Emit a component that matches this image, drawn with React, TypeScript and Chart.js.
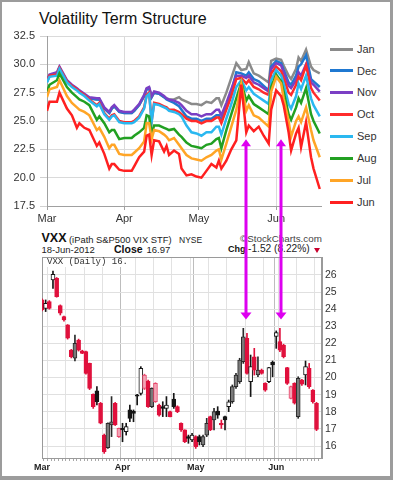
import React, { useEffect, useRef } from 'react';
import { Chart, registerables } from 'chart.js';
Chart.register(...registerables);

const FONT = "'Liberation Sans', Arial, Helvetica, sans-serif";
const MONO = "'Liberation Mono', 'DejaVu Sans Mono', monospace";

// ---------- Top chart: VIX futures term structure (x = days since Mar 1, 2012) ----------
const termDays = [0, 1, 4, 5, 8, 10, 12, 13, 15, 17, 20, 21, 23, 25, 26, 27, 29, 31, 34, 35, 37, 39, 40, 41, 42, 43, 45, 47, 48, 49, 51, 53, 54, 56, 58, 60, 62, 64, 66, 68, 69, 70, 72, 74, 76, 78, 80, 81, 83, 85, 87, 89, 90, 92, 94, 95, 97, 98, 100, 101, 102, 104, 106, 107, 109.5];
const monthTickDays = [0, 31, 61, 92];
const monthNames = ['Mar', 'Apr', 'May', 'Jun'];
const termYTicks = [17.5, 20, 22.5, 25, 27.5, 30, 32.5];

const janVals = [28.5, 29.0, 29.2, 29.7, 28.5, 28.1, 27.8, 27.6, 27.3, 27.0, 26.9, 26.9, 26.1, 25.7, 26.1, 26.3, 25.8, 25.7, 25.7, 25.9, 26.4, 27.2, 27.8, 27.9, 27.1, 27.5, 27.4, 27.1, 27.0, 26.9, 26.9, 27.1, 26.9, 26.7, 26.5, 26.5, 26.4, 26.7, 26.6, 27.0, 27.0, 26.4, 27.5, 28.8, 30.1, 29.5, 29.6, 30.2, 29.2, 29.0, 28.7, 28.4, 30.3, 30.5, 30.4, 29.9, 29.0, 28.7, 29.6, 30.6, 30.3, 31.3, 29.8, 29.5, 29.2];
const decVals = [28.5, 29.0, 29.2, 29.7, 28.5, 28.1, 27.8, 27.6, 27.3, 27.0, 26.9, 26.9, 26.1, 25.7, 26.1, 26.3, 25.8, 25.7, 25.7, 25.9, 26.4, 27.2, 27.8, 27.9, 27.1, 27.5, 27.4, 27.1, 26.9, 26.8, 26.6, 26.3, 26.0, 25.4, 25.2, 25.2, 25.0, 25.2, 25.2, 25.5, 25.5, 25.0, 26.3, 27.6, 29.3, 29.2, 29.0, 29.3, 28.7, 28.5, 28.1, 27.7, 29.8, 30.3, 30.1, 29.5, 28.4, 28.2, 29.0, 29.8, 30.0, 30.8, 28.7, 28.5, 28.0];
const novVals = [28.6, 29.1, 29.3, 29.8, 28.6, 28.2, 27.9, 27.7, 27.4, 27.1, 27.0, 27.0, 26.2, 25.8, 26.2, 26.4, 25.9, 25.8, 25.8, 26.0, 26.5, 27.3, 27.9, 28.0, 27.2, 27.6, 27.5, 27.2, 27.0, 26.9, 26.8, 26.6, 26.4, 25.9, 25.6, 25.6, 25.4, 25.6, 25.6, 26.0, 26.0, 25.5, 26.6, 27.8, 29.0, 29.0, 28.8, 29.0, 28.4, 28.2, 27.9, 27.6, 29.6, 30.1, 29.9, 29.3, 28.1, 27.9, 28.6, 29.3, 29.0, 30.0, 28.4, 28.2, 27.6];
const octVals = [28.5, 29.0, 29.1, 29.7, 28.5, 28.1, 27.8, 27.6, 27.3, 26.9, 26.4, 26.6, 25.7, 25.2, 25.5, 25.6, 25.0, 24.9, 24.9, 25.0, 25.4, 26.2, 27.3, 27.5, 25.0, 26.6, 26.5, 26.3, 26.2, 26.0, 26.0, 25.8, 25.6, 25.2, 25.0, 25.0, 24.8, 25.0, 25.0, 25.3, 25.3, 24.8, 26.0, 27.2, 28.7, 28.8, 28.3, 28.6, 28.0, 27.8, 27.5, 27.3, 29.2, 29.8, 29.4, 28.8, 27.5, 27.3, 28.2, 28.9, 28.6, 29.9, 27.9, 27.5, 26.8];
const sepVals = [28.4, 28.9, 29.0, 29.6, 28.4, 28.0, 27.7, 27.5, 27.2, 26.8, 26.3, 26.5, 25.6, 25.1, 25.4, 25.5, 24.9, 24.8, 24.8, 24.9, 25.3, 26.1, 27.2, 27.4, 24.9, 26.5, 26.4, 26.2, 26.1, 25.9, 25.8, 25.6, 25.4, 24.6, 24.0, 23.9, 23.7, 24.0, 24.0, 24.5, 24.5, 23.8, 25.2, 26.5, 28.0, 28.6, 27.7, 28.0, 27.4, 27.1, 26.8, 26.5, 28.6, 29.5, 29.0, 28.3, 26.5, 26.1, 27.2, 28.3, 27.8, 29.0, 27.0, 26.4, 25.4];
const augVals = [27.6, 28.2, 28.6, 29.2, 28.0, 27.5, 27.1, 26.9, 26.7, 26.4, 25.1, 25.4, 24.8, 24.0, 24.2, 24.2, 23.4, 23.5, 23.5, 23.7, 24.0, 24.4, 25.5, 25.4, 23.9, 24.6, 24.6, 24.4, 24.3, 24.2, 24.3, 23.8, 23.6, 23.1, 22.8, 22.7, 22.6, 22.9, 23.0, 23.4, 23.5, 22.6, 24.2, 25.6, 27.0, 28.4, 26.8, 27.2, 26.5, 26.2, 25.9, 25.6, 28.0, 29.1, 28.5, 27.6, 25.6, 25.1, 26.2, 27.0, 26.6, 27.9, 25.6, 25.0, 23.9];
const julVals = [27.1, 27.8, 28.0, 28.6, 27.2, 26.6, 26.2, 26.0, 25.8, 25.5, 24.2, 24.4, 23.6, 22.6, 22.9, 22.9, 22.1, 22.0, 22.0, 22.2, 22.6, 23.2, 24.8, 24.8, 23.4, 24.2, 24.1, 23.8, 23.6, 23.3, 23.5, 22.9, 22.6, 22.0, 21.7, 21.6, 21.5, 21.8, 22.0, 22.4, 22.5, 21.6, 23.0, 24.5, 26.0, 28.3, 25.9, 26.4, 25.5, 25.3, 24.9, 24.5, 27.6, 28.9, 28.3, 27.0, 25.0, 23.6, 25.0, 25.4, 24.9, 26.2, 24.2, 23.3, 21.8];
const junVals = [25.9, 26.7, 26.7, 27.5, 26.1, 25.5, 24.4, 24.8, 24.4, 24.2, 22.8, 23.1, 22.1, 20.8, 21.2, 21.2, 20.7, 20.6, 20.6, 21.0, 21.8, 22.3, 23.7, 23.8, 22.0, 23.3, 23.2, 22.3, 22.8, 22.0, 22.4, 22.1, 20.8, 20.2, 20.3, 20.1, 20.0, 20.6, 21.2, 20.9, 21.5, 20.8, 21.5, 22.5, 23.3, 28.2, 24.0, 24.6, 24.1, 24.5, 23.7, 23.0, 26.0, 27.7, 27.2, 26.4, 24.0, 22.4, 23.9, 24.4, 22.7, 24.9, 21.8, 20.8, 19.0];

const contractNames = ['Jan', 'Dec', 'Nov', 'Oct', 'Sep', 'Aug', 'Jul', 'Jun'];
const contractColors = ['#8A8A8A', '#1F78D1', '#7B3FC4', '#FF2B2B', '#2AB8F0', '#22A022', '#FFA526', '#FF2020'];
const contractValues = [janVals, decVals, novVals, octVals, sepVals, augVals, julVals, junVals];

// magenta arrows (top chart day, tip values in each chart)
const arrowTermDays = [79.9, 93.8];
const arrowTipTerm = 23.4;
const arrowTipVxx = 23.4;

// ---------- Bottom chart: VXX daily candles (x = trading-day index from Mar 1, 2012) ----------
const vxxOpen = [24.54, 24.05, 24.44, 25.71, 25.81, 24.21, 23.56, 23.08, 21.61, 22.00, 22.20, 21.56, 21.52, 20.83, 19.02, 19.22, 18.50, 16.64, 17.33, 17.42, 18.50, 16.55, 17.03, 16.84, 18.11, 18.05, 19.00, 19.08, 19.37, 19.80, 19.37, 18.59, 18.40, 18.30, 18.20, 18.01, 18.75, 18.30, 17.33, 16.94, 16.55, 16.35, 16.55, 16.55, 16.55, 17.33, 17.72, 18.01, 18.05, 17.33, 17.72, 18.30, 19.47, 20.15, 21.03, 22.39, 22.30, 19.76, 21.22, 20.44, 20.44, 19.66, 19.76, 20.89, 22.40, 22.10, 21.90, 20.58, 18.79, 19.66, 19.96, 19.86, 20.15, 20.54, 19.27, 18.49];
const vxxClose = [23.95, 24.34, 24.05, 26.04, 24.73, 23.76, 23.37, 22.30, 21.22, 21.13, 21.61, 21.42, 20.25, 19.37, 18.30, 18.59, 17.33, 15.67, 15.90, 17.23, 17.23, 17.03, 16.94, 17.13, 17.62, 17.91, 18.92, 20.54, 20.15, 18.30, 18.30, 19.66, 17.81, 18.20, 18.40, 17.72, 18.30, 18.01, 16.94, 16.25, 16.45, 16.64, 15.96, 16.25, 16.06, 16.64, 16.94, 17.52, 17.81, 17.23, 17.52, 18.59, 18.59, 19.47, 19.76, 20.93, 20.25, 20.64, 20.44, 20.15, 20.25, 19.27, 20.58, 20.74, 22.63, 21.61, 21.22, 19.66, 19.47, 18.50, 17.72, 19.61, 20.64, 19.47, 18.59, 16.97];
const vxxHigh = [24.60, 24.54, 24.50, 26.23, 25.85, 24.25, 23.60, 23.10, 21.65, 22.49, 22.25, 21.60, 21.55, 20.85, 19.05, 19.47, 18.55, 16.70, 17.35, 18.89, 18.55, 17.05, 17.33, 17.33, 18.40, 18.11, 19.02, 20.64, 20.20, 19.85, 19.40, 19.70, 18.45, 18.59, 18.89, 18.05, 19.08, 18.35, 17.35, 16.95, 16.64, 16.74, 16.60, 16.64, 16.64, 17.62, 17.75, 18.20, 18.30, 17.52, 17.75, 18.69, 19.57, 20.25, 21.13, 22.88, 22.59, 21.32, 21.71, 21.22, 20.50, 19.70, 20.60, 20.97, 22.73, 22.88, 21.95, 20.60, 19.50, 19.70, 20.05, 19.90, 20.97, 20.83, 19.30, 18.55];
const vxxLow = [23.90, 23.86, 24.00, 25.22, 24.70, 23.66, 23.30, 22.25, 21.15, 20.97, 21.55, 21.40, 20.20, 19.30, 18.20, 18.40, 17.30, 15.57, 15.86, 16.55, 17.20, 16.50, 16.25, 16.64, 17.42, 17.42, 18.40, 18.98, 19.30, 18.25, 18.25, 18.55, 17.75, 17.72, 17.72, 17.70, 18.20, 17.95, 16.85, 16.20, 16.16, 16.25, 15.86, 16.06, 15.96, 16.55, 16.90, 16.94, 17.62, 17.03, 16.94, 18.01, 18.50, 19.37, 19.66, 20.83, 20.20, 18.89, 20.15, 20.05, 20.20, 19.20, 19.70, 20.05, 21.71, 21.52, 21.15, 19.60, 18.75, 18.45, 17.62, 19.55, 19.57, 19.37, 18.50, 16.90];
// R = red filled, P = red hollow, G = black filled (grey), K = black filled (solid), B = black hollow
const vxxStyle = 'RBRBRRRRRGRRRRRKRRGGRPKBKKKBPRGPRKBRKRRRKBRKGGRGKRKBGGGGRBRGRRBKBRRRPRGRBRRR'.split('');
const vxxMonthIdx = [0, 22, 42, 64];
const vxxMondayIdx = [2, 7, 12, 17, 22, 26, 31, 36, 41, 46, 51, 56, 61, 65, 70, 75];
const vxxYTicks = [16, 17, 18, 19, 20, 21, 22, 23, 24, 25, 26];

const styleFill: Record<string, string> = { R: '#E0103C', P: '#F3A3B5', G: '#7A7A7A', K: '#151515', B: '#FFFFFF' };
const styleLine: Record<string, string> = { R: '#E0103C', P: '#E8486C', G: '#2A2A2A', K: '#151515', B: '#151515' };

const ARROW = '#DD00F0';

function Txt({ x, base, size, bold, color = '#222', family = FONT, z = 1, bg, children }: any) {
  return (
    <span
      style={{
        position: 'absolute', left: x, top: base - 0.8465 * size, fontSize: size, lineHeight: `${size}px`,
        fontWeight: bold ? 700 : 400, color, fontFamily: family, whiteSpace: 'pre', zIndex: z, background: bg,
      }}
    >
      {children}
    </span>
  );
}

export default function App() {
  const topRef = useRef<HTMLCanvasElement>(null);
  const botRef = useRef<HTMLCanvasElement>(null);

  useEffect(() => {
    document.body.style.margin = '0';
    Chart.defaults.font.family = FONT;
    Chart.defaults.color = '#333';

    let arrowXs: number[] = [];

    const topArrows = {
      id: 'topArrows',
      afterDatasetsDraw(chart: any) {
        const { ctx } = chart;
        const ys = chart.scales.y;
        const xs = chart.scales.x;
        ctx.save();
        ctx.fillStyle = ARROW;
        arrowTermDays.forEach((d) => {
          const x = Math.round(xs.getPixelForValue(d));
          const tip = ys.getPixelForValue(arrowTipTerm);
          ctx.fillRect(x - 1.5, tip + 5, 3, chart.height - tip - 5);
          ctx.beginPath();
          ctx.moveTo(x, tip);
          ctx.lineTo(x - 5, tip + 7);
          ctx.lineTo(x + 5, tip + 7);
          ctx.closePath();
          ctx.fill();
        });
        ctx.restore();
      },
    };

    const topDatasets = contractNames
      .map((name, k) => ({
        label: name,
        data: termDays.map((d, i) => ({ x: d, y: contractValues[k][i] })),
        borderColor: contractColors[k],
        backgroundColor: contractColors[k],
        borderWidth: 2.5,
        pointRadius: 0,
        tension: 0,
        fill: false,
      }))
      .reverse();

    const top = new Chart(topRef.current!, {
      type: 'line',
      data: { datasets: topDatasets },
      options: {
        responsive: false,
        animation: false,
        devicePixelRatio: 1,
        layout: { padding: { left: 0, top: 36, right: 72, bottom: 0 } },
        plugins: { legend: { display: false }, tooltip: { enabled: false } },
        scales: {
          x: {
            type: 'linear',
            min: 0,
            max: 110,
            afterBuildTicks: (s: any) => { s.ticks = monthTickDays.map((v) => ({ value: v })); },
            afterFit: (s: any) => { s.height = 24; },
            ticks: {
              autoSkip: false, maxRotation: 0, padding: 2, color: '#333', font: { size: 11 },
              callback: (v: any) => { const k = monthTickDays.indexOf(v); return k >= 0 ? monthNames[k] : ''; },
            },
            grid: { color: '#DADADA', tickLength: 4, tickColor: '#A0A0A0' },
            border: { color: '#A0A0A0' },
          },
          y: {
            min: 17.5,
            max: 32.5,
            afterBuildTicks: (s: any) => { s.ticks = termYTicks.map((v) => ({ value: v })); },
            afterFit: (s: any) => { s.width = 47; },
            ticks: { padding: 5, color: '#333', font: { size: 11 }, callback: (v: any) => Number(v).toFixed(1) },
            grid: { color: '#DADADA', tickLength: 7, tickColor: '#D0D0D0' },
            border: { color: '#A0A0A0' },
          },
        },
      },
      plugins: [topArrows],
    });

    const xsTop = top.scales.x;
    arrowXs = arrowTermDays.map((d) => Math.round(xsTop.getPixelForValue(d)));

    const botDecor = {
      id: 'botDecor',
      beforeDatasetsDraw(chart: any) {
        const { ctx, chartArea: a } = chart;
        ctx.save();
        ctx.strokeStyle = '#9A9A9A';
        ctx.lineWidth = 1;
        ctx.strokeRect(Math.round(a.left) + 0.5, Math.round(a.top) + 0.5, Math.round(a.right - a.left) - 1, Math.round(a.bottom - a.top));
        ctx.restore();
      },
      afterDraw(chart: any) {
        const { ctx } = chart;
        const ys = chart.scales.y;
        ctx.save();
        ctx.fillStyle = ARROW;
        arrowXs.forEach((x) => {
          const tip = ys.getPixelForValue(arrowTipVxx);
          ctx.fillRect(x - 1.5, 0, 3, tip - 5);
          ctx.beginPath();
          ctx.moveTo(x, tip);
          ctx.lineTo(x - 5.5, tip - 7);
          ctx.lineTo(x + 5.5, tip - 7);
          ctx.closePath();
          ctx.fill();
        });
        ctx.restore();
      },
    };

    const idx = vxxOpen.map((_, i) => i);

    const bottom = new Chart(botRef.current!, {
      type: 'bar',
      data: {
        datasets: [
          {
            label: 'body',
            data: idx.map((i) => ({ x: i, y: [vxxOpen[i], vxxClose[i]] })),
            backgroundColor: vxxStyle.map((s) => styleFill[s]),
            borderColor: vxxStyle.map((s) => styleLine[s]),
            borderWidth: 1,
            borderSkipped: false,
            barThickness: 4,
            grouped: false,
          } as any,
          {
            label: 'wick',
            data: idx.map((i) => ({ x: i, y: [vxxLow[i], vxxHigh[i]] })),
            backgroundColor: vxxStyle.map((s) => styleLine[s]),
            borderWidth: 0,
            barThickness: 1,
            grouped: false,
          } as any,
        ],
      },
      options: {
        responsive: false,
        animation: false,
        devicePixelRatio: 1,
        layout: { padding: { left: 42, top: 27, right: 0, bottom: 0 } },
        plugins: { legend: { display: false }, tooltip: { enabled: false } },
        scales: {
          x: {
            type: 'linear',
            min: 0,
            max: 76.5,
            offset: false,
            afterBuildTicks: (s: any) => { s.ticks = idx.map((v) => ({ value: v })); },
            afterFit: (s: any) => { s.height = 22; },
            ticks: {
              autoSkip: false, maxRotation: 0, padding: 1, color: '#222', font: { size: 9, weight: 'bold' },
              callback: (v: any) => { const k = vxxMonthIdx.indexOf(v); return k >= 0 ? monthNames[k] : ''; },
            },
            grid: {
              color: (c: any) => {
                const v = c.tick ? c.tick.value : -1;
                if (vxxMonthIdx.includes(v)) return '#BDBDBD';
                if (vxxMondayIdx.includes(v)) return '#E2E2E2';
                return 'rgba(0,0,0,0)';
              },
              tickColor: '#A8A8A8',
              tickLength: 3,
            },
            border: { color: '#9A9A9A' },
          },
          y: {
            position: 'right',
            min: 15.3,
            max: 27.05,
            afterBuildTicks: (s: any) => { s.ticks = vxxYTicks.map((v) => ({ value: v })); },
            afterFit: (s: any) => { s.width = 71; },
            ticks: { padding: 3, color: '#333', font: { size: 10.5 }, callback: (v: any) => String(v) },
            grid: { color: '#E0E0E0', drawTicks: false },
            border: { color: '#9A9A9A' },
          },
        },
      },
      plugins: [botDecor],
    });

    return () => {
      top.destroy();
      bottom.destroy();
    };
  }, []);

  const legendRows = contractNames.map((name, i) => {
    const cy = 49 + 21.9 * i;
    return (
      <React.Fragment key={name}>
        <div style={{ position: 'absolute', left: 330, top: cy - 1.5, width: 23, height: 3, background: contractColors[i], zIndex: 1 }} />
        <Txt x={357} base={cy + 4} size={11} color="#333">{name}</Txt>
      </React.Fragment>
    );
  });

  return (
    <div style={{ position: 'relative', width: 393, height: 480, background: '#FFFFFF', overflow: 'hidden', fontFamily: FONT }}>
      <Txt x={39} base={24.3} size={16} color="#111">Volatility Term Structure</Txt>
      {legendRows}

      <Txt x={41.5} base={243} size={12.5} bold color="#111">VXX</Txt>
      <Txt x={69} base={243} size={9.4} color="#222">(iPath S&amp;P500 VIX STF)</Txt>
      <Txt x={179} base={243} size={8.5} color="#222">NYSE</Txt>
      <Txt x={240} base={242.5} size={9.8} color="#444">©StockCharts.com</Txt>
      <Txt x={41.5} base={253} size={9.5} color="#222">18-Jun-2012</Txt>
      <Txt x={114} base={253} size={10.5} bold color="#111">Close</Txt>
      <Txt x={146.5} base={253} size={9.5} color="#222">16.97</Txt>
      <Txt x={228} base={253} size={9} bold color="#111">Chg</Txt>
      <Txt x={248} base={253} size={10.2} color="#222">-1.52 (8.22%)</Txt>
      <div style={{ position: 'absolute', left: 313.5, top: 247.5, width: 0, height: 0, borderLeft: '3.5px solid transparent', borderRight: '3.5px solid transparent', borderTop: '5px solid #C8002D', zIndex: 1 }} />

      <canvas ref={topRef} width={393} height={230} style={{ position: 'absolute', left: 0, top: 0, width: 393, height: 230, zIndex: 2 }} />
      <canvas ref={botRef} width={393} height={250} style={{ position: 'absolute', left: 0, top: 230, width: 393, height: 250, zIndex: 2 }} />

      <Txt x={47} base={265.5} size={9} family={MONO} color="#333" z={3} bg="#FFFFFF">VXX (Daily) 16.</Txt>

      <div style={{ position: 'absolute', inset: 0, borderStyle: 'solid', borderColor: '#9C9C9C', borderWidth: '2px 3px 4px 2px', boxSizing: 'border-box', pointerEvents: 'none', zIndex: 5 }} />
    </div>
  );
}
